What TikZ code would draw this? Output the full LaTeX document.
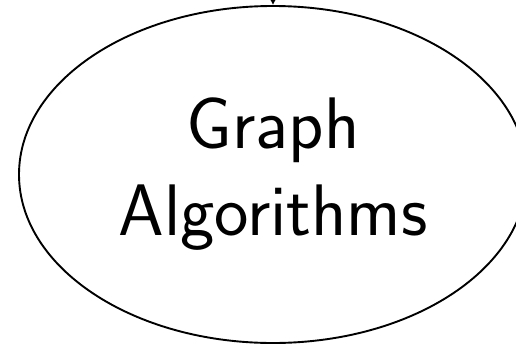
\documentclass[tikz,border=0pt]{standalone}
\usetikzlibrary{shapes.geometric,arrows.meta}
\begin{document}
\begin{tikzpicture}[x=1pt,y=1pt,
  topic/.style={draw,ellipse,line width=1.9pt,inner sep=0pt,minimum width=508pt,minimum height=337pt,
    font=\sffamily\fontsize{73}{87}\selectfont,align=center},
  conn/.style={line width=1.9pt,-{Latex[length=7pt,width=8pt]}}]
\useasboundingbox (0,0) rectangle (516,-345);
\node[topic] (g) at (273,-174.5) {Graph\\Algorithms};
\coordinate (src) at (273,30);
\draw[conn] (src) -- (g.north);
\end{tikzpicture}
\end{document}
